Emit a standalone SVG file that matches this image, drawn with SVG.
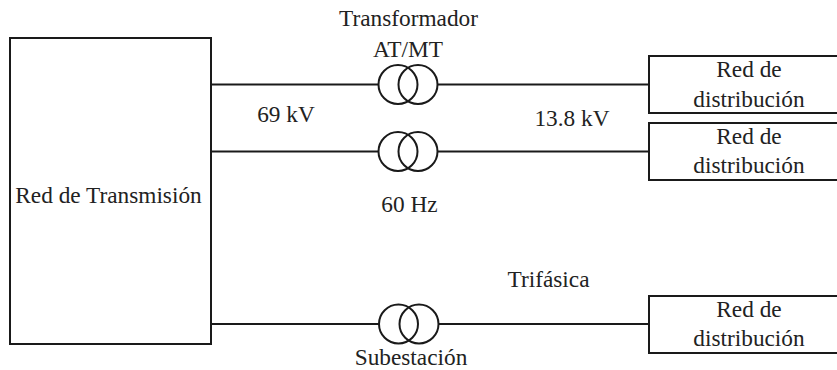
<svg xmlns="http://www.w3.org/2000/svg" width="837" height="370" viewBox="0 0 837 370">
<style>
text{font-family:"Liberation Serif","Times New Roman",serif;font-size:23.3px;fill:#222;text-anchor:middle}
.b{fill:#fff;stroke:#1a1a1a;stroke-width:2}
.l{stroke:#1a1a1a;stroke-width:2;fill:none}
.c{fill:none;stroke:#1a1a1a;stroke-width:2}
</style>
<rect width="837" height="370" fill="#fff"/>
<g id="connectors">
<path class="l" d="M211 84.500H378M438 84.500H649M211 151.500H378M438 151.500H649M211 324H379M439 324H649"/>
</g>
<g id="transmision"><rect class="b" x="10" y="38" width="201" height="306"/><text x="108.500" y="203">Red de Transmisión</text></g>
<g id="t1"><circle class="c" cx="398" cy="84.500" r="19.500"/><circle class="c" cx="418" cy="84.500" r="19.500"/></g>
<g id="t2"><circle class="c" cx="398" cy="151.500" r="19.500"/><circle class="c" cx="418" cy="151.500" r="19.500"/></g>
<g id="t3"><circle class="c" cx="398.500" cy="324" r="19.500"/><circle class="c" cx="419" cy="324" r="19.500"/></g>
<g id="d1"><rect class="b" x="649" y="56" width="189" height="57"/><text x="749" y="77">Red de</text><text x="749" y="107">distribución</text></g>
<g id="d2"><rect class="b" x="649" y="123" width="189" height="57"/><text x="749" y="144">Red de</text><text x="749" y="173">distribución</text></g>
<g id="d3"><rect class="b" x="649" y="296" width="189" height="57"/><text x="749" y="317">Red de</text><text x="749" y="346">distribución</text></g>
<g id="labels">
<text x="408.500" y="26">Transformador</text><text x="408" y="57">AT/MT</text>
<text x="286" y="122">69 kV</text><text x="572" y="126">13.8 kV</text>
<text x="409.500" y="212">60 Hz</text><text x="548.500" y="287">Trifásica</text><text x="411" y="364.800">Subestación</text>
</g>
</svg>
